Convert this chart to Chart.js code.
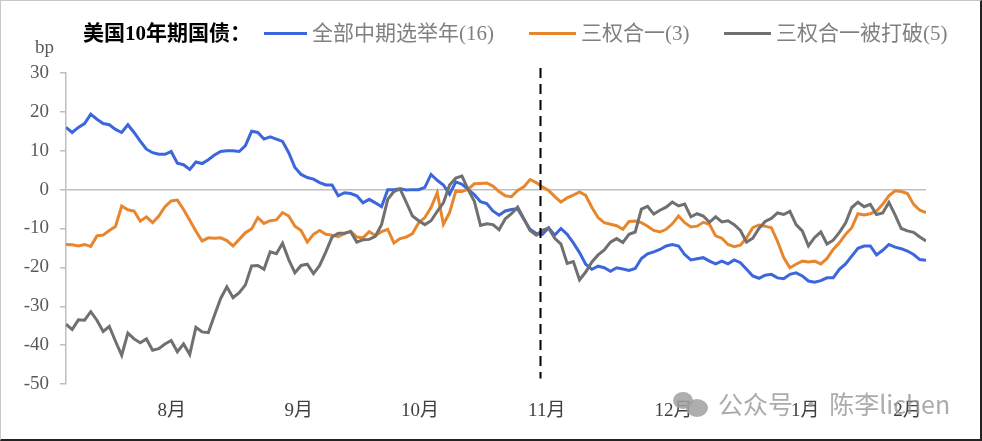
<!DOCTYPE html>
<html>
<head>
<meta charset="utf-8">
<script src="https://cdn.jsdelivr.net/npm/chart.js@4.4.0/dist/chart.umd.min.js"></script>
<style>
  html, body { margin: 0; padding: 0; background: #fff; overflow: hidden; }
  #wrap { position: relative; width: 982px; height: 441px; box-sizing: border-box;
          border-top: 1px solid #c8c8c8; border-left: 1px solid #c8c8c8;
          border-right: 2px solid #222; border-bottom: 2px solid #222; }
  canvas { position: absolute; left: 0; top: 0; }
  .txt { position: absolute; white-space: nowrap; font-family: "Liberation Serif", "Noto Sans CJK SC", serif; }
  #title { left: 82px; top: 19px; font-size: 21px; line-height: 26px; font-weight: bold; color: #000; }
  #unit { left: 34px; top: 35px; font-size: 19px; line-height: 22px; color: #595959; }
  .leg { position: absolute; top: 19px; height: 26px; }
  .leg i { position: absolute; left: 0; top: 12px; height: 3px; }
  .leg span { position: absolute; top: 0; font-size: 21px; line-height: 26px; color: #808080; white-space: nowrap;
              font-family: "Liberation Serif", "Noto Sans CJK SC", serif; }
  #mark { position: absolute; left: 672px; top: 386px; height: 30px; color: rgba(150,150,150,0.8);
          font-family: "Noto Sans CJK SC", "Noto Sans", sans-serif; font-size: 25px; white-space: nowrap; }
  #mark b { position: absolute; border-radius: 50%; background: rgba(160,160,160,0.85); }
</style>
</head>
<body>
<div id="wrap">
  <canvas id="chart" width="982" height="441"></canvas>
  <div class="txt" id="title">美国10年期国债：</div>
  <div class="txt" id="unit">bp</div>
  <div id="legend"></div>
  <div id="mark">
    <b style="left:0;top:5px;width:20px;height:17px"></b>
    <b style="left:13px;top:12px;width:22px;height:18px"></b>
    <span style="position:absolute;left:45px;top:-2px">公众号 · 陈李lichen</span>
  </div>
</div>
<script>
// series names and colours
const seriesNames = ['全部中期选举年(16)', '三权合一(3)', '三权合一被打破(5)'];
const seriesColors = ['#3C66DC', '#E8862E', '#707070'];

// month tick labels and their trading-day index on the x axis
const monthLabels = ['8月', '9月', '10月', '11月', '12月', '1月', '2月'];
const monthPos = [17.1, 37.6, 57.2, 77.7, 98.2, 119.5, 136.0];

// election day (dashed marker), as trading-day index
const electionIdx = 76.6;

// 全部中期选举年(16), bp
const allMidterm = [
  16.0, 14.7, 16.0, 17.0, 19.4, 18.1, 17.0, 16.7, 15.5, 14.7,
  16.7, 14.7, 12.5, 10.4, 9.5, 9.1, 9.1, 9.8, 6.8, 6.4,
  5.2, 7.1, 6.7, 7.7, 8.9, 9.8, 10.0, 10.0, 9.8, 11.3,
  15.0, 14.7, 13.0, 13.6, 13.0, 12.4, 9.5, 5.7, 3.9, 3.1,
  2.7, 1.8, 1.2, 1.2, -1.6, -0.8, -1.0, -1.6, -3.4, -2.5,
  -3.4, -4.4, 0.0, 0.0, 0.2, -0.1, 0.0, 0.0, 0.6, 3.9,
  2.4, 1.2, -1.2, 2.0, 1.4, 0.0, -1.3, -3.1, -3.6, -5.5,
  -6.6, -5.5, -5.1, -4.9, -7.6, -10.2, -11.3, -11.5, -9.8, -11.7,
  -10.0, -11.5, -13.7, -16.2, -19.2, -20.5, -19.7, -20.1, -21.0, -20.1,
  -20.4, -20.8, -20.3, -17.7, -16.5, -16.0, -15.4, -14.5, -14.1, -14.5,
  -16.7, -18.1, -17.8, -17.5, -18.4, -19.1, -18.4, -19.1, -18.1, -18.8,
  -20.5, -22.2, -22.8, -22.0, -21.8, -22.7, -22.9, -21.8, -21.4, -22.2,
  -23.5, -23.8, -23.4, -22.7, -22.7, -20.5, -19.1, -17.1, -15.1, -14.5,
  -14.5, -16.8, -15.6, -14.1, -14.8, -15.2, -15.8, -16.7, -18.0, -18.2
];

// 三权合一(3), bp
const unified = [
  -14.1, -14.2, -14.5, -14.1, -14.6, -11.9, -11.7, -10.5, -9.5, -4.2,
  -5.2, -5.5, -8.1, -7.0, -8.5, -6.8, -4.4, -2.9, -2.7, -5.1,
  -7.9, -10.7, -13.2, -12.4, -12.5, -12.4, -13.1, -14.5, -12.8, -11.1,
  -10.1, -7.2, -8.7, -8.0, -7.8, -5.9, -6.8, -9.4, -10.5, -13.5,
  -11.5, -10.5, -11.5, -11.7, -12.1, -11.3, -10.7, -12.2, -12.4, -10.8,
  -11.8, -10.8, -10.2, -13.7, -12.6, -12.2, -11.3, -8.5, -7.2, -4.6,
  -0.8, -8.9, -5.9, -0.4, -0.5, 0.1, 1.5, 1.6, 1.7, 0.9,
  -0.5, -1.6, -1.8, -0.2, 0.7, 2.6, 1.8, 0.7, -0.2, -1.8,
  -3.2, -2.1, -1.4, -0.6, -1.5, -4.6, -7.2, -8.5, -8.9, -9.3,
  -10.2, -8.2, -8.1, -8.5, -9.4, -10.5, -10.9, -10.2, -8.8, -6.8,
  -8.5, -9.6, -9.4, -8.4, -8.9, -11.9, -12.5, -14.1, -14.7, -14.3,
  -12.4, -9.8, -9.1, -9.4, -9.8, -13.3, -17.5, -20.1, -19.2, -18.4,
  -18.6, -18.4, -19.1, -17.7, -15.4, -13.7, -11.5, -9.8, -6.2, -6.5,
  -6.2, -5.5, -3.8, -1.6, -0.3, -0.5, -1.0, -3.8, -5.3, -5.9
];

// 三权合一被打破(5), bp
const splitGov = [
  -34.6, -36.0, -33.5, -33.6, -31.4, -33.6, -36.5, -35.2, -39.0, -42.6,
  -36.9, -38.4, -39.4, -38.4, -41.3, -40.9, -39.7, -38.8, -41.7, -39.7,
  -42.4, -35.4, -36.6, -36.8, -32.3, -28.0, -25.0, -27.8, -26.5, -24.5,
  -19.6, -19.5, -20.5, -16.0, -16.5, -13.8, -18.0, -21.4, -19.5, -19.2,
  -21.6, -19.5, -16.0, -12.2, -11.2, -11.2, -10.8, -13.5, -12.9, -12.8,
  -12.0, -9.0, -2.5, -0.5, 0.2, -3.3, -6.8, -8.0, -9.0, -8.0,
  -5.6, -3.4, 1.2, 3.0, 3.5, 0.0, -3.0, -9.2, -8.8, -9.0,
  -10.3, -7.5, -6.2, -4.5, -7.5, -10.5, -11.7, -10.5, -9.9, -12.5,
  -14.0, -19.0, -18.5, -23.2, -21.2, -18.6, -16.8, -15.5, -13.5, -12.6,
  -13.6, -11.5, -10.9, -5.0, -4.3, -6.3, -5.3, -4.5, -3.2, -4.2,
  -3.7, -7.0, -6.2, -6.8, -8.4, -7.0, -8.3, -8.0, -9.0, -10.5,
  -13.5, -12.5, -10.0, -8.2, -7.4, -6.0, -6.4, -5.6, -9.0, -10.6,
  -14.5, -12.3, -10.9, -14.0, -13.0, -11.0, -8.6, -4.6, -3.2, -4.4,
  -3.8, -6.4, -6.0, -3.3, -6.5, -10.0, -10.6, -11.0, -12.2, -13.2
];

const seriesValues = [allMidterm, unified, splitGov];

// html legend, built from the series arrays
const legendLeft = [263, 528, 723];
const legendLine = [43, 47, 47];
const legendBox = document.getElementById('legend');
seriesNames.forEach((name, k) => {
  const item = document.createElement('div');
  item.className = 'leg';
  item.style.left = legendLeft[k] + 'px';
  item.innerHTML = '<i style="width:' + legendLine[k] + 'px;background:' + seriesColors[k] + '"></i>' +
    '<span style="left:' + (legendLine[k] + 5) + 'px">' + name + '</span>';
  legendBox.appendChild(item);
});

// dashed vertical marker at election day
const electionLine = {
  id: 'electionLine',
  afterDatasetsDraw(chart) {
    const { ctx, scales: { x, y } } = chart;
    const px = Math.round(x.getPixelForValue(electionIdx)) + 0.5;
    ctx.save();
    ctx.strokeStyle = '#000';
    ctx.lineWidth = 2;
    ctx.setLineDash([10, 6]);
    ctx.beginPath();
    ctx.moveTo(px, y.getPixelForValue(31.3));
    ctx.lineTo(px, y.getPixelForValue(-48.6));
    ctx.stroke();
    ctx.restore();
  }
};

const tickFont = { family: '"Liberation Serif", "Noto Sans CJK SC", serif', size: 19 };

new Chart(document.getElementById('chart').getContext('2d'), {
  type: 'line',
  data: {
    datasets: seriesNames.map((name, k) => ({
      label: name,
      data: seriesValues[k].map((v, i) => ({ x: i, y: v })),
      borderColor: seriesColors[k],
      backgroundColor: seriesColors[k],
      borderWidth: 3,
      pointRadius: 0,
      tension: 0,
      fill: false,
      order: 2 - k
    }))
  },
  options: {
    responsive: false,
    animation: false,
    events: [],
    layout: { padding: { left: 10, right: 57, top: 72, bottom: 8 } },
    plugins: {
      legend: { display: false },
      tooltip: { enabled: false }
    },
    scales: {
      x: {
        type: 'linear',
        min: 0,
        max: seriesValues[0].length - 1,
        afterBuildTicks: axis => { axis.ticks = monthPos.map(v => ({ value: v })); },
        afterFit: s => { s.height = 50; },
        ticks: {
          autoSkip: false,
          maxRotation: 0,
          padding: 16,
          color: '#404040',
          font: tickFont,
          callback: (value, idx) => monthLabels[idx]
        },
        grid: { display: false, drawTicks: false },
        border: { display: false }
      },
      y: {
        min: -50,
        max: 30,
        afterFit: s => { s.width = 55; },
        ticks: {
          stepSize: 10,
          padding: 11,
          color: '#595959',
          font: tickFont
        },
        grid: {
          color: c => (c.tick && c.tick.value === 0) ? '#bfbfbf' : 'rgba(0,0,0,0)',
          tickColor: '#bfbfbf',
          lineWidth: 1.5,
          drawTicks: true,
          tickLength: 6
        },
        border: { display: true, color: '#bfbfbf', width: 1.5 }
      }
    }
  },
  plugins: [electionLine]
});
</script>
</body>
</html>
